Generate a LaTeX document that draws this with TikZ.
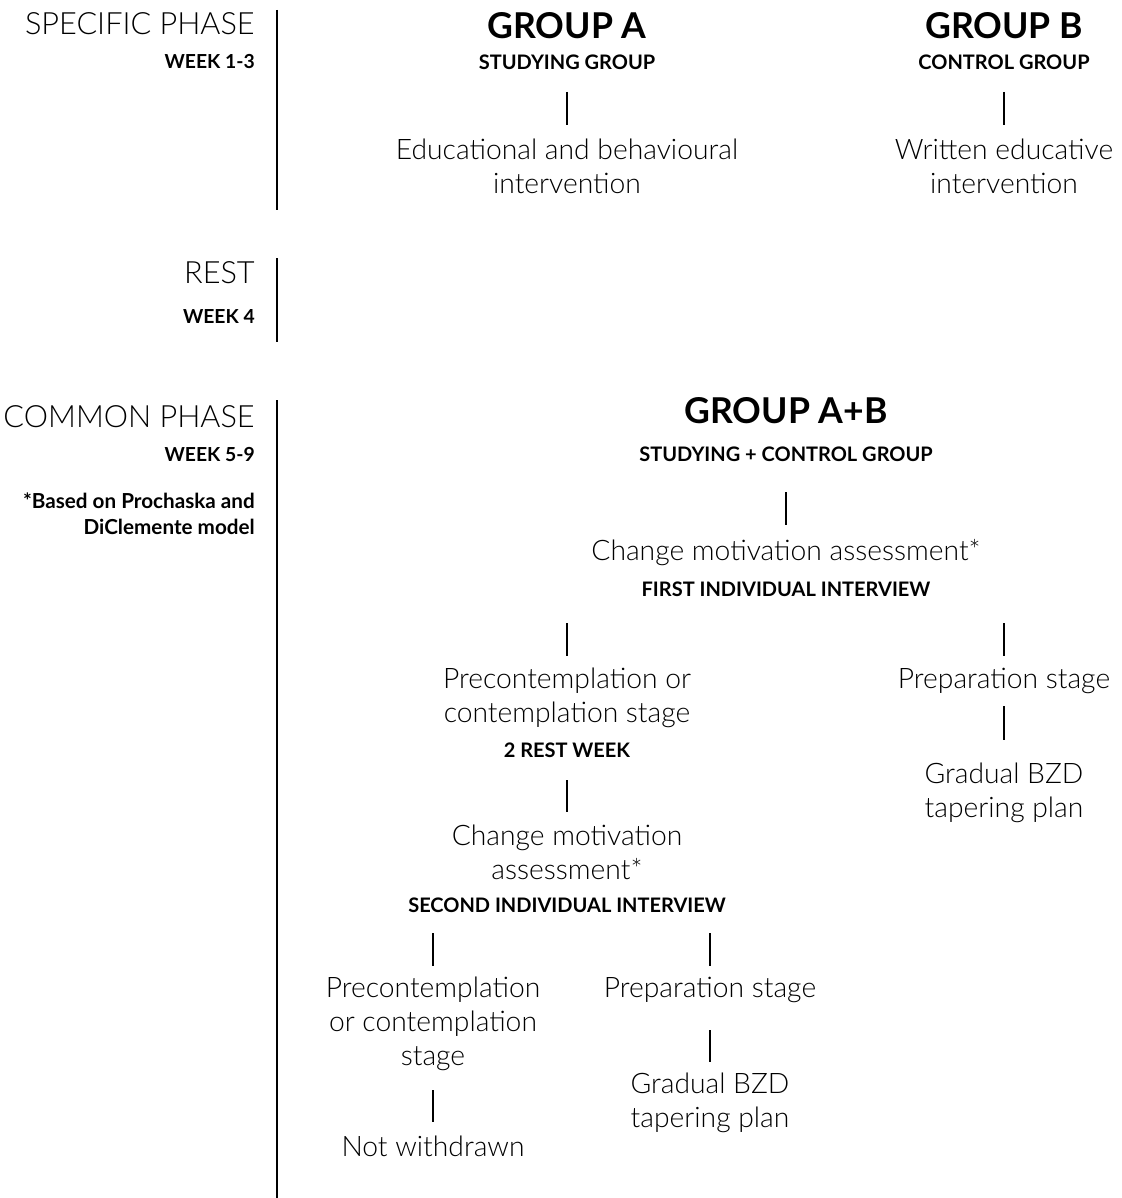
\documentclass[tikz,border=0pt]{standalone}
\usepackage{fontspec}
\setmainfont{Lato}[UprightFont=* Light, BoldFont=* Bold]
\newfontfamily\medfont{Lato}[UprightFont=* Bold]
\begin{document}
\begin{tikzpicture}[x=0.75pt,y=-0.75pt,
  phase/.style={anchor=east,inner sep=0,font=\fontsize{23}{27}\selectfont},
  week/.style={anchor=east,inner sep=0,align=right,font=\medfont\fontsize{14.5}{19}\selectfont},
  note/.style={anchor=east,inner sep=0,align=right,font=\medfont\fontsize{15.5}{19.5}\selectfont},
  grp/.style={inner sep=0,font=\bfseries\fontsize{26.7}{30}\selectfont},
  sub/.style={inner sep=0,font=\medfont\fontsize{15}{17}\selectfont},
  txt/.style={inner sep=0,align=center,font=\fontsize{21.2}{25.5}\selectfont},
  bar/.style={line width=1.9pt},
  conn/.style={line width=1.3pt}]
\useasboundingbox (0,0) rectangle (1121,1198);
% left labels
\node[phase] (sp) at (255,24) {SPECIFIC PHASE};
\node[week] (w13) at (255,62) {WEEK 1-3};
\node[phase] (rest) at (255,273) {REST};
\node[week] (w4) at (255,317) {WEEK 4};
\node[phase] (cp) at (255,417) {COMMON PHASE};
\node[week] (w59) at (255,455) {WEEK 5-9};
\node[note] (nt) at (255,514) {*Based on Prochaska and\\DiClemente model};
% phase bars
\coordinate (b1t) at (277,10); \coordinate (b1b) at (277,210);
\coordinate (b2t) at (277,258); \coordinate (b2b) at (277,342);
\coordinate (b3t) at (277,400); \coordinate (b3b) at (277,1198);
\draw[bar] (b1t) -- (b1b);
\draw[bar] (b2t) -- (b2b);
\draw[bar] (b3t) -- (b3b);
% group A
\node[grp] (ga) at (567,26) {GROUP A};
\node[sub] (gas) at (567,62) {STUDYING GROUP};
\node[txt] (ia) at (567,166) {Educational and behavioural\\intervention};
\coordinate (a1) at (567,92); \coordinate (a2) at (567,125);
\draw[conn] (a1) -- (a2);
% group B
\node[grp] (gb) at (1004,26) {GROUP B};
\node[sub] (gbs) at (1004,62) {CONTROL GROUP};
\node[txt] (ib) at (1004,166) {Written educative\\intervention};
\coordinate (bb1) at (1004,92); \coordinate (bb2) at (1004,125);
\draw[conn] (bb1) -- (bb2);
% group A+B
\node[grp] (gab) at (786,411) {GROUP A+B};
\node[sub] (gabs) at (786,454) {STUDYING + CONTROL GROUP};
\node[txt] (cm1) at (786,553) {Change motivation assessment*};
\node[sub] (fi) at (786,589) {FIRST INDIVIDUAL INTERVIEW};
\coordinate (c1) at (786,492); \coordinate (c2) at (786,525);
\draw[conn] (c1) -- (c2);
% left branch
\node[txt] (pc1) at (567,698) {Precontemplation or\\contemplation stage};
\node[sub] (rw) at (567,750) {2 REST WEEK};
\node[txt] (cm2) at (567,852) {Change motivation\\assessment*};
\node[sub] (si) at (567,905) {SECOND INDIVIDUAL INTERVIEW};
\coordinate (l1) at (567,623); \coordinate (l2) at (567,656);
\coordinate (l3) at (567,780); \coordinate (l4) at (567,812);
\draw[conn] (l1) -- (l2);
\draw[conn] (l3) -- (l4);
% right branch
\node[txt] (pr1) at (1004,681) {Preparation stage};
\node[txt] (gr1) at (1004,793) {Gradual BZD\\tapering plan};
\coordinate (r1) at (1004,623); \coordinate (r2) at (1004,656);
\coordinate (r3) at (1004,706); \coordinate (r4) at (1004,740);
\draw[conn] (r1) -- (r2);
\draw[conn] (r3) -- (r4);
% sub-left
\node[txt] (pc2) at (433,1024) {Precontemplation\\or contemplation\\stage};
\node[txt] (nw) at (433,1146) {Not withdrawn};
\coordinate (s1) at (433,933); \coordinate (s2) at (433,966);
\coordinate (s3) at (433,1090); \coordinate (s4) at (433,1122);
\draw[conn] (s1) -- (s2);
\draw[conn] (s3) -- (s4);
% sub-right
\node[txt] (pr2) at (710,990) {Preparation stage};
\node[txt] (gr2) at (710,1103) {Gradual BZD\\tapering plan};
\coordinate (t1) at (710,933); \coordinate (t2) at (710,966);
\coordinate (t3) at (710,1030); \coordinate (t4) at (710,1062);
\draw[conn] (t1) -- (t2);
\draw[conn] (t3) -- (t4);
\end{tikzpicture}
\end{document}
